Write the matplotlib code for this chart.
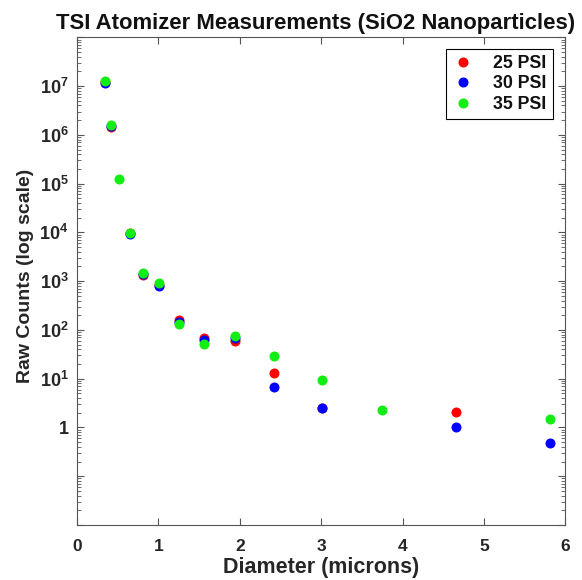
import numpy as np
import matplotlib
matplotlib.use("Agg")
import matplotlib.pyplot as plt
from matplotlib.ticker import LogLocator, FuncFormatter, NullFormatter

plt.rcParams['font.family'] = ['Liberation Sans', 'DejaVu Sans']
plt.rcParams['mathtext.fontset'] = 'custom'
plt.rcParams['mathtext.rm'] = 'Liberation Sans:bold'
plt.rcParams['mathtext.bf'] = 'Liberation Sans:bold'
plt.rcParams['mathtext.it'] = 'Liberation Sans:bold'

diameter = [0.34, 0.42, 0.52, 0.654, 0.805, 1.006, 1.247, 1.554, 1.946, 2.42, 3.006, 3.75, 4.66, 5.81]
psi25 = [1.2e7, 1.45e6, np.nan, 9.5e3, 1.33e3, 850, 160, 69.5, 59.6, 13.0, 2.5, np.nan, 2.03, np.nan]
psi30 = [1.15e7, 1.5e6, np.nan, 9.2e3, 1.4e3, 806, 145, 62, 67.6, 6.9, 2.5, np.nan, 1.0, 0.49]
psi35 = [1.3e7, 1.62e6, 1.26e5, 9.8e3, 1.5e3, 902, 132, 51.6, 76, 29.3, 9.2, 2.3, np.nan, 1.5]
series_labels = ['25 PSI', '30 PSI', '35 PSI']
series_colors = ['#ff0000', '#0000ff', '#11ee11']

fig = plt.figure(figsize=(5.82, 5.80), dpi=100)
ax = fig.add_axes([0.1323, 0.0948, 0.9716 - 0.1323, 0.9357 - 0.0948])

for vals, lab, col in zip([psi25, psi30, psi35], series_labels, series_colors):
    ax.plot(diameter, vals, linestyle='none', marker='o', markersize=6.2,
            color=col, markeredgecolor=col, label=lab)

ax.set_yscale('log')
ax.set_xlim(0, 6)
ax.set_ylim(1e-2, 1e8)
ax.set_xticks(range(7))
ax.set_xticklabels([str(i) for i in range(7)])
ax.yaxis.set_major_locator(LogLocator(base=10, numticks=20))
ax.yaxis.set_minor_locator(LogLocator(base=10, subs=np.arange(2, 10), numticks=100))
ax.yaxis.set_minor_formatter(NullFormatter())

def yfmt(v, pos):
    e = int(round(np.log10(v)))
    if e < 0 or e > 7:
        return ''
    if e == 0:
        return '1'
    return r'$\mathbf{10^{%d}}$' % e

ax.yaxis.set_major_formatter(FuncFormatter(yfmt))

for s in ax.spines.values():
    s.set_color('#555555')
    s.set_linewidth(0.8)
ax.tick_params(axis='both', which='both', direction='in', top=True, right=True,
               colors='#555555', labelcolor='#262626')
ax.tick_params(axis='both', which='major', length=5, width=0.8, labelsize=12.5)
ax.tick_params(axis='y', which='major', labelsize=13)
ax.tick_params(axis='both', which='minor', length=3, width=0.6)
for lbl in ax.get_xticklabels() + ax.get_yticklabels():
    lbl.set_fontweight('bold')
ax.tick_params(axis='x', pad=10)
ax.tick_params(axis='y', pad=6)

ax.set_xlabel('Diameter (microns)', fontsize=15.5, fontweight='bold', color='#262626', labelpad=2)
ax.set_ylabel('Raw Counts (log scale)', fontsize=14, fontweight='bold', color='#262626', labelpad=4)
ax.yaxis.label.set_y(0.511)
ax.set_title('TSI Atomizer Measurements (SiO2 Nanoparticles)', fontsize=15.9,
             fontweight='bold', color='#111111', pad=6, x=0.488)

leg = ax.legend(loc='upper right', fancybox=False, edgecolor='black', framealpha=1,
                prop={'weight': 'bold', 'size': 12.8}, handlelength=1.2,
                handletextpad=1.1, borderpad=0.35, labelspacing=0.2,
                borderaxespad=0, bbox_to_anchor=(0.974, 0.977))
leg.get_frame().set_linewidth(0.8)
for t in leg.get_texts():
    t.set_color('#111111')

fig.savefig('out.png', dpi=100)
